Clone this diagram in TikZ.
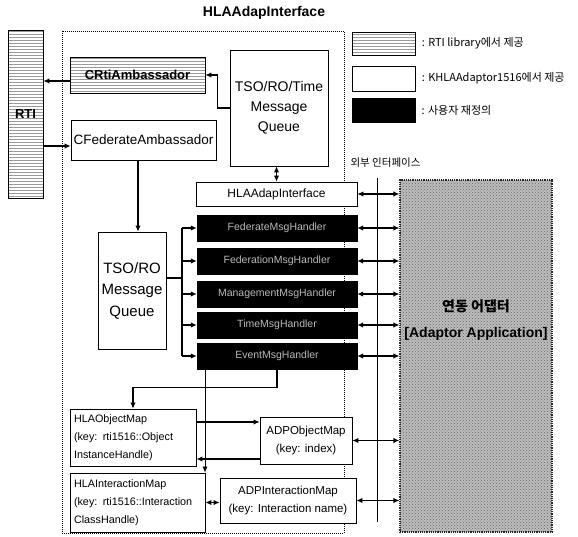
\documentclass[tikz,border=0pt]{standalone}
\usepackage{fontspec}
\setmainfont{Liberation Sans}
\newfontfamily\kr{Noto Sans CJK KR}
\usetikzlibrary{arrows.meta,patterns}
\begin{document}
\begin{tikzpicture}[x=1pt,y=-1pt,
  box/.style={draw, line width=0.8pt, fill=white, inner sep=0pt},
  hatched/.style={draw, line width=0.8pt, preaction={fill=white}, pattern=horizontal lines, pattern color=black!40, inner sep=0pt},
  handler/.style={draw, fill=black, text=gray!55, inner sep=0pt, minimum width=160pt, minimum height=26pt, font=\fontsize{10.5}{12}\selectfont},
  mapbox/.style={box, align=left, inner xsep=4pt, font=\fontsize{10.8}{18}\selectfont},
  arr/.style={line width=1.3pt, -{Latex[length=6pt,width=5.5pt]}},
  darr/.style={line width=1.3pt, {Latex[length=6pt,width=5.5pt]}-{Latex[length=6pt,width=5.5pt]}},
  legtext/.style={anchor=west, font=\kr\fontsize{11}{13}\selectfont}
]
\useasboundingbox (0,0) rectangle (578,536);

% title and outer frame
\node[font=\bfseries\fontsize{14}{16}\selectfont] (title) at (264,13) {HLAAdapInterface};
\draw[line width=1pt, densely dotted] (62,31) rectangle (344,533);

% RTI side
\node[hatched, minimum width=35pt, minimum height=168pt, font=\bfseries\fontsize{13}{15}\selectfont] (RTI) at (25.5,114) {RTI};
\node[hatched, minimum width=135pt, minimum height=36pt, font=\bfseries\fontsize{13}{15}\selectfont] (CRti) at (137.5,75) {CRtiAmbassador};
\node[box, minimum width=145pt, minimum height=40pt, font=\fontsize{13.5}{15}\selectfont] (CFed) at (143.5,140) {CFederateAmbassador};
\node[box, minimum width=98pt, minimum height=116pt, align=center, font=\fontsize{14}{20}\selectfont] (TSO) at (279,108) {TSO/RO/Time\\Message\\Queue};
\node[box, minimum width=68pt, minimum height=117pt, align=center, font=\fontsize{15}{21.5}\selectfont] (MQ) at (132,290.5) {TSO/RO\\Message\\Queue};

% interface and handlers
\node[box, minimum width=161pt, minimum height=24pt, font=\fontsize{12}{14}\selectfont] (HAI) at (276.5,194) {HLAAdapInterface};
\node[handler] (H1) at (277,228) {FederateMsgHandler};
\node[handler] (H2) at (277,261) {FederationMsgHandler};
\node[handler] (H3) at (277,294) {ManagementMsgHandler};
\node[handler] (H4) at (277,325) {TimeMsgHandler};
\node[handler] (H5) at (277,356) {EventMsgHandler};

% adapter application
\node[draw=black!85, line width=1.2pt, densely dotted, preaction={fill=gray!52}, pattern=crosshatch dots, pattern color=black!60, minimum width=152pt, minimum height=352pt, inner sep=0pt] (App) at (476,356) {};
\node[align=center, font=\bfseries\fontsize{14}{26}\selectfont, inner sep=0pt] (AppLbl) at (476,320) {{\kr\bfseries 연동 어댑터}\\{[}Adaptor Application]};

% maps
\node[mapbox, text width=118pt, minimum height=57pt] (HLAObj) at (133,437.5) {HLAObjectMap\\(key: rti1516::Object\\InstanceHandle)};
\node[box, minimum width=92pt, minimum height=47pt, align=center, font=\fontsize{11.5}{18}\selectfont] (ADPObj) at (306,440.5) {ADPObjectMap\\(key: index)};
\node[mapbox, text width=127pt, minimum height=59pt] (HLAInt) at (137.5,502.5) {HLAInteractionMap\\(key: rti1516::Interaction\\ClassHandle)};
\node[box, minimum width=136pt, minimum height=45pt, align=center, font=\fontsize{11.5}{18}\selectfont] (ADPInt) at (288,500.5) {ADPInteractionMap\\(key: Interaction name)};

% legend
\node[hatched, minimum width=63pt, minimum height=23pt] (L1) at (383.5,43.5) {};
\node[box, minimum width=63pt, minimum height=25pt] (L2) at (383.5,78.5) {};
\node[draw, fill=black, minimum width=63pt, minimum height=24pt, inner sep=0pt] (L3) at (383.5,110) {};
\node[legtext] (L1t) at ([xshift=3pt]L1.east) {: RTI library에서 제공};
\node[legtext] (L2t) at ([xshift=3pt]L2.east) {: KHLAAdaptor1516에서 제공};
\node[legtext] (L3t) at ([xshift=3pt]L3.east) {: 사용자 재정의};

% external interface
\node[anchor=west, font=\kr\fontsize{10.5}{12}\selectfont] (extlbl) at (347,163) {외부 인터페이스};
\coordinate (extT) at (377,178);
\coordinate (extB) at (377,522);
\draw[line width=0.7pt] (extT) -- (extB);

% helper coordinates
\coordinate (cf) at (138,0);
\coordinate (bus) at (182,0);
\coordinate (c205) at (205,0);
\coordinate (y81) at (0,81);
\coordinate (y146) at (0,146);
\coordinate (y278) at (0,278);
\coordinate (y422) at (0,422);
\coordinate (y459) at (0,459);

% connectors upper
\draw[arr] (CRti.west |- y81) -- (RTI.east |- y81);
\draw[arr] (RTI.east |- y146) -- (CFed.west |- y146);
\draw[arr] (TSO.west) -- ++(-12,0) |- (CRti.east);
\draw[darr] (HAI.north) -- (HAI.north |- TSO.south);
\draw[arr] (CFed.south -| cf) -- (MQ.north -| cf);

% bus to handlers
\draw[line width=1.3pt] (MQ.east |- y278) -- (bus |- y278);
\draw[line width=1.3pt] (bus |- H1.west) -- (bus |- H5.west);
\foreach \h in {H1,H2,H3,H4,H5} {
  \draw[arr] (bus |- \h.west) -- (\h.west);
}

% handlers to adapter
\foreach \h in {HAI,H1,H2,H3,H4,H5} {
  \draw[darr] (\h.east) -- (\h.east -| App.west);
}

% lower connectors
\draw[arr] (H5.south) -- ++(0,18) -| (HLAObj.north);
\draw[line width=0.7pt, -{Latex[length=6pt,width=5pt]}] (H5.south -| c205) -- (HLAInt.north -| c205);
\draw[arr] (HLAObj.east |- y422) -- (ADPObj.west |- y422);
\draw[arr] (ADPObj.west |- y459) -- (HLAObj.east |- y459);
\draw[darr] (HLAInt.east) -- (HLAInt.east -| ADPInt.west);
\draw[darr] (ADPObj.east) -- (ADPObj.east -| App.west);
\draw[darr] (ADPInt.east) -- (ADPInt.east -| App.west);
\end{tikzpicture}
\end{document}
